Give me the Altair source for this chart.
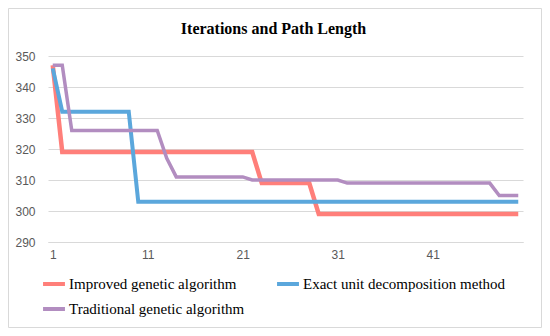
import altair as alt
import pandas as pd

iterations = list(range(1, 51))

improved = [347] + [319] * 21 + [309] * 6 + [299] * 22
exact = [346] + [332] * 8 + [303] * 41
traditional = [347, 347] + [326] * 10 + [317] + [311] * 8 + [310] * 10 + [309] * 16 + [305] * 3

series_names = ["Improved genetic algorithm", "Exact unit decomposition method", "Traditional genetic algorithm"]
series_values = [improved, exact, traditional]
series_colors = ["#FF7F7A", "#5BA7DC", "#B28DC0"]
series_widths = [4.5, 3.5, 3.5]

y_ticks = [290, 300, 310, 320, 330, 340, 350]
x_ticks = [1, 11, 21, 31, 41]

rows = []
for k, (name, vals) in enumerate(zip(series_names, series_values)):
    for i, v in zip(iterations, vals):
        rows.append({"iter": i, "value": v, "series": name, "k": k})
df = pd.DataFrame(rows)

color_scale = alt.Scale(domain=series_names, range=series_colors)
x_enc = alt.X("iter:Q", scale=alt.Scale(domain=[0.5, 50.5], nice=False, zero=False),
              axis=alt.Axis(values=x_ticks, grid=False, ticks=False, domain=True,
                            domainColor="#D9D9D9", domainWidth=1, labelPadding=7,
                            labelFont="Liberation Sans", labelFontSize=12, labelColor="#595959",
                            title=None))
y_enc = alt.Y("value:Q", scale=alt.Scale(domain=[290, 350], nice=False, zero=False),
              axis=alt.Axis(values=y_ticks, grid=True, gridColor="#D9D9D9", gridWidth=1,
                            ticks=False, domain=False, labelPadding=13,
                            labelFont="Liberation Sans", labelFontSize=12, labelColor="#595959",
                            title=None))

border = alt.Chart(pd.DataFrame({"a": [0]})).mark_rect(
    fill="transparent", stroke="#D9D9D9", strokeWidth=1
).encode(x=alt.value(-39.5), x2=alt.value(493.5), y=alt.value(-47.5), y2=alt.value(271.5))

lines = alt.Chart(df).mark_line(interpolate="linear").encode(
    x=x_enc, y=y_enc,
    color=alt.Color("series:N", scale=color_scale, sort=series_names,
                    legend=alt.Legend(title=None, orient="none", legendX=-7, legendY=215,
                                      direction="horizontal", columns=2, columnPadding=24,
                                      rowPadding=4,
                                      symbolType="stroke", symbolSize=480,
                                      symbolStrokeWidth=4, labelOffset=2, padding=0,
                                      labelFont="Liberation Serif", labelFontSize=15,
                                      labelColor="#000000", labelLimit=400)),
    size=alt.Size("k:N", scale=alt.Scale(domain=[0, 1, 2], range=series_widths), legend=None),
    order="iter:Q",
)

chart = alt.layer(border, lines).properties(
    width=475, height=186,
    title=alt.TitleParams("Iterations and Path Length", font="Liberation Serif", fontSize=16,
                          fontWeight="bold", color="#000000", anchor="middle", frame="group",
                          dx=-12, dy=16, offset=-26, baseline="alphabetic"),
    autosize=alt.AutoSizeParams(type="none"),
    padding={"left": 40, "top": 48, "right": 19, "bottom": 86},
).configure_view(stroke=None)

chart.save("out.html", embed_options={"renderer": "svg", "actions": False})
